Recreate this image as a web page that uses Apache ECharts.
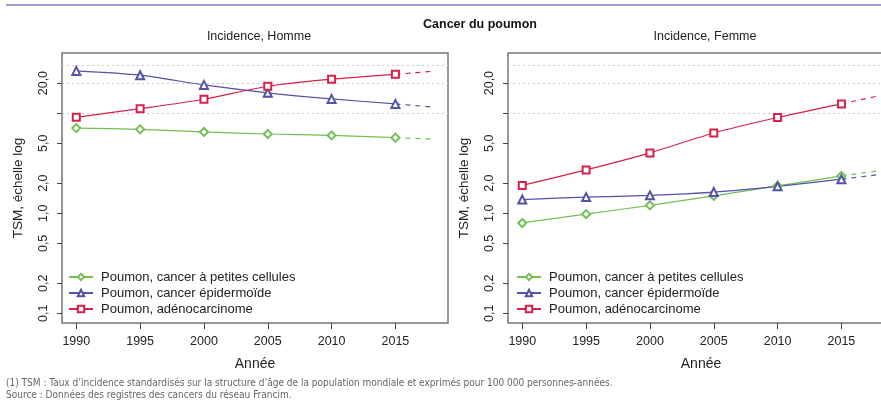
<!DOCTYPE html>
<html>
<head>
<meta charset="utf-8">
<script src="https://cdn.jsdelivr.net/npm/echarts@6/dist/echarts.min.js"></script>
<style>
  html, body { margin: 0; padding: 0; background: #fff; }
  #chart { width: 881px; height: 401px; }
</style>
</head>
<body>
<div id="chart"></div>
<script>
// years and tick values
var years = [1990, 1995, 2000, 2005, 2010, 2015];
var projYears = [2015, 2018];
var xTicks = [1990, 1995, 2000, 2005, 2010, 2015];
var yTicks = [0.1, 0.2, 0.5, 1, 2, 5, 10, 20];
var yLabels = [0.1, 0.2, 0.5, 1, 2, 5, 20];
var refLines = [10, 20, 30];

var seriesNames = [
  "Poumon, cancer à petites cellules",
  "Poumon, cancer épidermoïde",
  "Poumon, adénocarcinome"
];

// Homme
var hommePetites = [7.1, 6.9, 6.5, 6.2, 6.0, 5.7];
var hommeEpider = [26.5, 24.0, 19.2, 16.0, 13.9, 12.4];
var hommeAdeno = [9.1, 11.1, 13.8, 18.6, 21.9, 24.5];
var hommePetitesProj = [5.7, 5.5];
var hommeEpiderProj = [12.4, 11.5];
var hommeAdenoProj = [24.5, 26.3];

// Femme
var femmePetites = [0.80, 0.98, 1.20, 1.49, 1.88, 2.36];
var femmeEpider = [1.37, 1.45, 1.51, 1.63, 1.86, 2.19];
var femmeAdeno = [1.90, 2.71, 4.01, 6.35, 9.06, 12.4];
var femmePetitesProj = [2.36, 2.67];
var femmeEpiderProj = [2.19, 2.44];
var femmeAdenoProj = [12.4, 15.0];

var colors = ["#72bf55", "#5252a6", "#d6214b"];
var symbols = ["emptyDiamond", "emptyTriangle", "emptyRect"];
var font = "'Liberation Sans', Arial, Helvetica, sans-serif";

function pairs(xs, ys) {
  return xs.map(function (x, i) { return [x, ys[i]]; });
}

function panelSeries(idx, main, proj) {
  var out = [];
  main.forEach(function (vals, k) {
    var s = {
      name: seriesNames[k],
      type: "line",
      xAxisIndex: idx,
      yAxisIndex: idx,
      data: pairs(years, vals),
      smooth: 0.25,
      symbol: symbols[k],
      symbolSize: k === 2 ? 7 : 8,
      color: colors[k],
      lineStyle: { width: 1.2, color: colors[k] },
      itemStyle: { color: colors[k], borderWidth: 1 },
      z: 3
    };
    if (k === 0) {
      s.markLine = {
        silent: true,
        symbol: "none",
        label: { show: false },
        lineStyle: { color: "#c8c8c8", type: [2, 3], width: 1 },
        data: refLines.map(function (v) { return { yAxis: v }; }),
        z: 1
      };
    }
    out.push(s);
  });
  proj.forEach(function (vals, k) {
    out.push({
      name: "proj-" + k,
      type: "line",
      xAxisIndex: idx,
      yAxisIndex: idx,
      data: pairs(projYears, vals),
      symbol: "none",
      lineStyle: { width: 1.2, color: colors[k], type: [5, 5] },
      z: 2
    });
  });
  return out;
}

function xAxisFor(idx) {
  return {
    gridIndex: idx,
    type: "value",
    min: 1988.88,
    max: 2019.12,
    name: "Année",
    nameLocation: "middle",
    nameGap: 34,
    nameTextStyle: { fontFamily: font, fontSize: 14, color: "#222" },
    axisLine: { show: false },
    splitLine: { show: false },
    axisTick: { show: true, length: 6, customValues: xTicks, lineStyle: { color: "#444" } },
    axisLabel: {
      customValues: xTicks,
      margin: 12,
      fontFamily: font,
      fontSize: 12.5,
      color: "#222",
      formatter: function (v) { return String(v); }
    }
  };
}

function yAxisFor(idx) {
  return {
    gridIndex: idx,
    type: "log",
    logBase: 10,
    min: 0.08,
    max: 40,
    name: "TSM, échelle log",
    nameLocation: "middle",
    nameGap: 37,
    nameTextStyle: { fontFamily: font, fontSize: 13.5, color: "#222" },
    axisLine: { show: false },
    splitLine: { show: false },
    axisTick: { show: true, length: 5, customValues: yTicks, lineStyle: { color: "#444" } },
    axisLabel: {
      customValues: yLabels,
      rotate: 90,
      margin: 12,
      fontFamily: font,
      fontSize: 12.5,
      color: "#222",
      formatter: function (v) { return Number(v).toFixed(1).replace(".", ","); }
    }
  };
}

function legendFor(left) {
  return {
    orient: "vertical",
    left: left,
    top: 265,
    itemWidth: 24,
    itemHeight: 8,
    itemGap: 2,
    selectedMode: false,
    data: seriesNames,
    textStyle: { fontFamily: font, fontSize: 13, color: "#222", lineHeight: 14, padding: [0, 0, 0, 3] }
  };
}

var chart = echarts.init(document.getElementById("chart"));
var option = {
  animation: false,
  backgroundColor: "#fff",
  title: [
    { text: "Cancer du poumon", left: 475, top: 13, textAlign: "center",
      textStyle: { fontFamily: font, fontSize: 12.5, fontWeight: "bold", color: "#111" } },
    { text: "Incidence, Homme", left: 254, top: 25, textAlign: "center",
      textStyle: { fontFamily: font, fontSize: 12.5, fontWeight: "normal", color: "#222" } },
    { text: "Incidence, Femme", left: 700, top: 25, textAlign: "center",
      textStyle: { fontFamily: font, fontSize: 12.5, fontWeight: "normal", color: "#222" } }
  ],
  legend: [legendFor(63), legendFor(511)],
  grid: [
    { left: 62, top: 53, width: 386, height: 270, show: true, borderColor: "#777", borderWidth: 1.5, outerBoundsMode: "none" },
    { left: 508, top: 53, width: 386, height: 270, show: true, borderColor: "#777", borderWidth: 1.5, outerBoundsMode: "none" }
  ],
  xAxis: [xAxisFor(0), xAxisFor(1)],
  yAxis: [yAxisFor(0), yAxisFor(1)],
  graphic: [
    { type: "line", shape: { x1: 6, y1: 5, x2: 881, y2: 5 }, style: { stroke: "#a09ecd", lineWidth: 2 } },
    { type: "text", left: 6, top: 378, style: {
        text: "(1) TSM : Taux d’incidence standardisés sur la structure d’âge de la population mondiale et exprimés pour 100 000 personnes-années.",
        font: "10px 'DejaVu Sans Condensed', 'Liberation Sans Narrow', sans-serif", fill: "#666" } },
    { type: "text", left: 6, top: 390, style: {
        text: "Source : Données des registres des cancers du réseau Francim.",
        font: "10px 'DejaVu Sans Condensed', 'Liberation Sans Narrow', sans-serif", fill: "#666" } }
  ],
  series: panelSeries(0, [hommePetites, hommeEpider, hommeAdeno], [hommePetitesProj, hommeEpiderProj, hommeAdenoProj])
    .concat(panelSeries(1, [femmePetites, femmeEpider, femmeAdeno], [femmePetitesProj, femmeEpiderProj, femmeAdenoProj]))
};
chart.setOption(option);
</script>
</body>
</html>
